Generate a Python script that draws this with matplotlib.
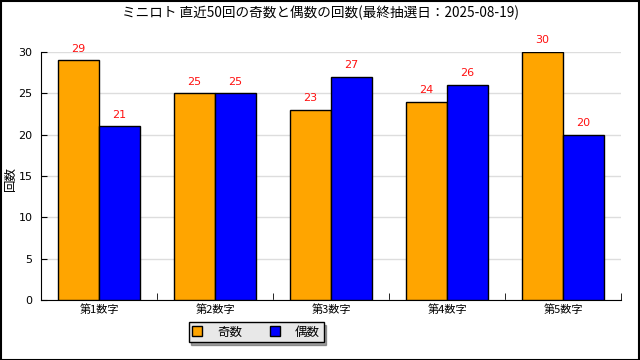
import matplotlib
matplotlib.use("Agg")
import matplotlib.pyplot as plt
import numpy as np
from matplotlib.patches import Rectangle

plt.rcParams['font.family'] = ['Noto Sans CJK JP', 'DejaVu Sans']

# Data
categories = ["第1数字", "第2数字", "第3数字", "第4数字", "第5数字"]
odd_counts = [29, 25, 23, 24, 30]
even_counts = [21, 25, 27, 26, 20]
title = "ミニロト 直近50回の奇数と偶数の回数(最終抽選日：2025-08-19)"

fig = plt.figure(figsize=(6.4, 3.6), dpi=100)
ax = fig.add_axes([41/640, 60/360, 580/640, 248/360])

x = np.arange(len(categories))
w = 0.352
b1 = ax.bar(x - w/2, odd_counts, w, color="#FFA500", edgecolor="black", linewidth=1, label="奇数", zorder=3)
b2 = ax.bar(x + w/2, even_counts, w, color="#0000FF", edgecolor="black", linewidth=1, label="偶数", zorder=3)

for bars, vals in ((b1, odd_counts), (b2, even_counts)):
    for r, v in zip(bars, vals):
        ax.text(r.get_x() + r.get_width()/2, v + 0.8, str(v), ha="center", va="bottom",
                color="#FF1010", fontsize=8, family="DejaVu Sans", clip_on=False)

ax.set_xlim(-0.5, len(categories) - 0.5)
ax.set_ylim(0, 30)
ax.set_yticks(range(0, 31, 5))
ax.set_yticklabels([str(v) for v in range(0, 31, 5)], family="DejaVu Sans", fontsize=8)
ax.yaxis.grid(True, color="#dddddd", linewidth=1, zorder=0)
ax.set_axisbelow(True)
ax.tick_params(axis="y", direction="in", length=4, pad=6, color="black")

ax.set_xticks(x)
ax.set_xticklabels(categories, fontsize=8)
ax.tick_params(axis="x", which="major", length=0, pad=3)
ax.set_xticks(np.arange(-0.5, len(categories)), minor=True)
ax.tick_params(axis="x", which="minor", direction="in", length=5, color="black")

for s in ("top", "right"):
    ax.spines[s].set_visible(False)
ax.spines["left"].set_color("black")
ax.spines["bottom"].set_color("black")

ax.set_ylabel("回数", fontsize=9)
ax.yaxis.set_label_coords(-24/580, 0.49)

fig.text(0.5, 1 - 13/360, title, ha="center", va="center", fontsize=9.8)

leg = fig.legend(handles=[b1, b2], loc="center", bbox_to_anchor=(256/640, 1 - 332/360),
                 ncol=2, fontsize=9, frameon=True, fancybox=False, shadow=True,
                 handlelength=0.8, handleheight=0.8, columnspacing=2.2, handletextpad=1.2,
                 borderpad=0.3)
leg.get_frame().set_facecolor("#e8e8e8")
leg.get_frame().set_edgecolor("black")
leg.get_frame().set_linewidth(1)

fig.patches.append(Rectangle((0.001, 0.001), 0.997, 0.996, transform=fig.transFigure,
                             fill=False, edgecolor="black", linewidth=1.5))

fig.savefig("out.png", dpi=100)
